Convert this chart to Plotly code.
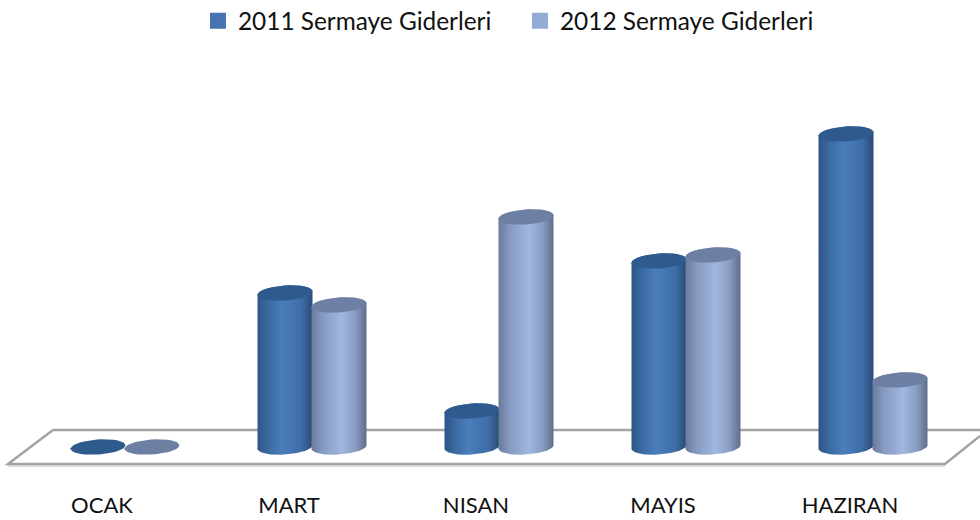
import numpy as np
import plotly.graph_objects as go

categories = ["OCAK", "MART", "NISAN", "MAYIS", "HAZIRAN"]
series_2011 = [0, 154, 36, 186, 313]
series_2012 = [0, 142, 230, 192, 67]
name_2011 = "2011 Sermaye Giderleri"
name_2012 = "2012 Sermaye Giderleri"

PX = 187.0           # pixels per category
OFFSET_2011 = -4 / PX
OFFSET_2012 = 50 / PX
RX = 27.5 / PX       # ellipse half width, axis units
RY = 7.5             # ellipse half height, axis units
TILT = 1.8           # rise of ellipse across its half-width

BLUE_SCALE = [[0, "#2F5585"], [0.2, "#3C6AA2"], [0.45, "#4A7EBB"], [0.8, "#3E6DA6"], [1, "#2A4A74"]]
LIGHT_SCALE = [[0, "#6A7A9C"], [0.2, "#8699C0"], [0.55, "#A0B7E0"], [0.8, "#8A9CC2"], [1, "#5F6D8A"]]
BLUE_TOP = "#2F5A8E"
LIGHT_TOP = "#6D80A4"


def ellipse(cx, cy, start, stop, n=40):
    t = np.linspace(start, stop, n)
    xs = np.cos(t)
    return cx + RX * xs, cy + RY * np.sin(t) + TILT * xs


def add_cylinders(fig, values, offset, scale, top):
    for i, v in enumerate(values):
        cx = i + offset
        if v > 0:
            x1, y1 = ellipse(cx, v, np.pi, 0)        # upper arc of top face
            x2, y2 = ellipse(cx, 0, 0, -np.pi)       # lower arc of base
            fig.add_trace(go.Scatter(
                x=np.r_[x1, x2, x1[0]], y=np.r_[y1, y2, y1[0]],
                mode="lines", line=dict(width=0), fill="toself",
                fillgradient=dict(type="horizontal", colorscale=scale),
                showlegend=False, hoverinfo="skip"))
        x, y = ellipse(cx, v, 0, 2 * np.pi)
        fig.add_trace(go.Scatter(
            x=x, y=y, mode="lines", line=dict(width=0), fill="toself",
            fillcolor=top, showlegend=False, hoverinfo="skip"))


fig = go.Figure()
add_cylinders(fig, series_2011, OFFSET_2011, BLUE_SCALE, BLUE_TOP)
add_cylinders(fig, series_2012, OFFSET_2012, LIGHT_SCALE, LIGHT_TOP)

for name, color in [(name_2011, "#4674AE"), (name_2012, "#94ABD6")]:
    fig.add_trace(go.Scatter(
        x=[None], y=[None], mode="markers", name=name,
        marker=dict(symbol="square", size=16, color=color)))

# floor of the 3-D plot, in fractions of the plot area (980 x 480)
W, PH = 980.0, 480.0
floor_path = (f"M {53/W} {1-430/PH} L {1} {1-430/PH} "
              f"M {980/W} {1-436/PH} L {945/W} {1-464/PH} L {8/W} {1-464/PH} L {53/W} {1-430/PH}")
shadow_path = f"M {8/W} {1-466/PH} L {945/W} {1-466/PH}"
fig.add_shape(type="path", xref="paper", yref="paper", path=shadow_path, layer="below",
              line=dict(color="#D6D6D6", width=1.5))
fig.add_shape(type="path", xref="paper", yref="paper", path=floor_path, layer="below",
              line=dict(color="#A3A3A3", width=2.5))

fig.update_layout(
    width=980, height=520, autosize=False,
    margin=dict(l=0, r=0, t=0, b=40, autoexpand=False),
    paper_bgcolor="white", plot_bgcolor="rgba(0,0,0,0)",
    font=dict(family="Lato", size=24, color="#111111"),
    legend=dict(orientation="h", x=0.202, xanchor="left", y=1.0033, yanchor="top",
                entrywidth=277, entrywidthmode="pixels",
                font=dict(family="Lato", size=24.4, color="#111111"),
                bgcolor="rgba(0,0,0,0)", itemclick=False, itemdoubleclick=False),
    showlegend=True,
    xaxis=dict(range=[-102 / PX, 878 / PX], tickmode="array", automargin=False,
               tickvals=list(range(len(categories))), ticktext=categories,
               showgrid=False, zeroline=False, showline=False, ticks="",
               ticklabelstandoff=10,
               tickfont=dict(family="Lato", size=22, color="#111111"), fixedrange=True),
    yaxis=dict(range=[-33, 447], showgrid=False, zeroline=False, showline=False,
               showticklabels=False, fixedrange=True),
)

fig.write_html("out.html", config={"displayModeBar": False},
               post_script="document.body.style.margin='0';document.body.style.overflow='hidden';")
